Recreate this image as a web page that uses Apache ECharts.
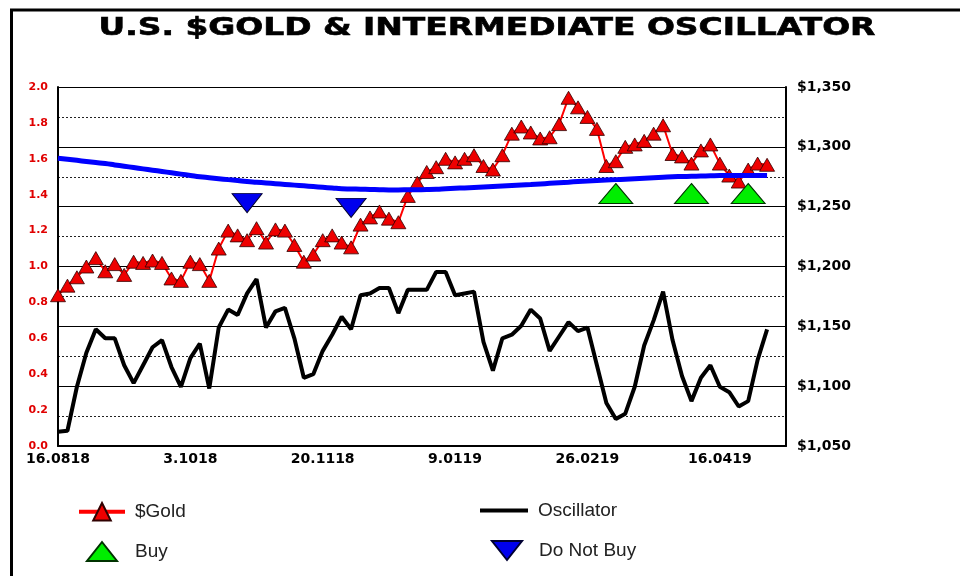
<!DOCTYPE html>
<html>
<head>
<meta charset="utf-8">
<script src="https://cdn.jsdelivr.net/npm/echarts@6/dist/echarts.min.js"></script>
<style>
  html, body { margin: 0; padding: 0; background: #fff; }
  #chart { width: 960px; height: 576px; }
</style>
</head>
<body>
<div id="chart"></div>
<script>
// one category = roughly two trading days
const tickLabels = ['16.0818', '3.1018', '20.1118', '9.0119', '26.0219', '16.0419']
const labelStep = 14
const slotCount = 78

const gold = [
  1176, 1184, 1191, 1200, 1207, 1196, 1202, 1193, 1204, 1203,
  1205, 1203, 1190, 1188, 1204, 1202, 1188, 1215, 1230, 1226,
  1222, 1232, 1220, 1231, 1230, 1218, 1204, 1210, 1222, 1226,
  1220, 1216, 1235, 1241, 1246, 1240, 1237, 1259, 1270, 1279,
  1283, 1290, 1287, 1290, 1293, 1284, 1281, 1293, 1311, 1317,
  1312, 1307, 1308, 1319, 1341, 1333, 1325, 1315, 1284, 1288,
  1300, 1302, 1305, 1311, 1318, 1294, 1292, 1286, 1297, 1302,
  1286, 1276, 1271, 1281, 1286, 1285
]
const average = [
  1290.5, 1289.6, 1288.7, 1287.8, 1286.9, 1286, 1284.9, 1283.8, 1282.7, 1281.6,
  1280.5, 1279.4, 1278.3, 1277.2, 1276.1, 1275, 1274.2, 1273.4, 1272.6, 1271.8,
  1271, 1270.4, 1269.8, 1269.2, 1268.6, 1268, 1267.4, 1266.8, 1266.2, 1265.6,
  1265, 1264.8, 1264.6, 1264.4, 1264.2, 1264, 1264, 1264.1, 1264.2, 1264.3,
  1264.5, 1264.9, 1265.3, 1265.7, 1266.1, 1266.5, 1266.9, 1267.3, 1267.7, 1268.1,
  1268.5, 1269, 1269.5, 1270, 1270.5, 1271, 1271.4, 1271.8, 1272.2, 1272.6,
  1273, 1273.4, 1273.8, 1274.2, 1274.6, 1275, 1275.2, 1275.4, 1275.6, 1275.8,
  1276, 1276, 1276, 1276, 1276, 1276
]
const oscillator = [
  0.08, 0.085, 0.33, 0.52, 0.65, 0.60, 0.60, 0.45, 0.35, 0.45,
  0.55, 0.59, 0.44, 0.33, 0.49, 0.57, 0.32, 0.66, 0.76, 0.73,
  0.85, 0.93, 0.66, 0.75, 0.77, 0.60, 0.38, 0.40, 0.53, 0.62,
  0.72, 0.65, 0.84, 0.85, 0.88, 0.88, 0.74, 0.87, 0.87, 0.87,
  0.97, 0.97, 0.84, 0.85, 0.86, 0.58, 0.42, 0.60, 0.62, 0.67,
  0.76, 0.71, 0.53, 0.61, 0.69, 0.64, 0.66, 0.45, 0.24, 0.15,
  0.18, 0.33, 0.56, 0.70, 0.86, 0.59, 0.39, 0.25, 0.38, 0.45,
  0.33, 0.30, 0.22, 0.25, 0.48, 0.65
]
const buySlots = [59, 67, 73]
const buyLevels = [1261, 1261, 1261]
const noBuySlots = [20, 31]
const noBuyLevels = [1253, 1249]

const categories = []
for (let i = 0; i < slotCount; i++) categories.push('p' + i)

const chart = echarts.init(document.getElementById('chart'))
const boldFont = '"DejaVu Sans", sans-serif'
const legendText = { fontFamily: '"Liberation Sans", Arial, sans-serif', fontSize: 19, color: '#222' }

chart.setOption({
  animation: false,
  backgroundColor: '#fff',
  grid: { left: 58, right: 174, top: 87, bottom: 130 },
  graphic: [
    {
      type: 'text',
      x: 487,
      y: 29,
      scaleX: 1.37,
      style: {
        text: 'U.S. $GOLD & INTERMEDIATE OSCILLATOR',
        font: 'bold 24px "DejaVu Sans"',
        fill: '#000',
        stroke: '#000',
        lineWidth: 0.6,
        textAlign: 'center',
        align: 'center',
        textVerticalAlign: 'middle',
        verticalAlign: 'middle',
      },
    },
    { type: 'line', shape: { x1: 10, y1: 10, x2: 960, y2: 10 }, style: { stroke: '#000', lineWidth: 3 } },
    { type: 'line', shape: { x1: 11.5, y1: 9, x2: 11.5, y2: 576 }, style: { stroke: '#000', lineWidth: 3 } },
  ],
  legend: [
    {
      data: ['$Gold'], left: 72, top: 497, itemWidth: 46, itemHeight: 22,
      lineStyle: { width: 4 },
      textStyle: Object.assign({ padding: [0, 0, 0, 5] }, legendText),
    },
    {
      data: ['Buy'], left: 81, top: 536, itemWidth: 30, itemHeight: 19,
      textStyle: Object.assign({ padding: [0, 0, 0, 13] }, legendText),
    },
    {
      data: [{ name: 'Oscillator', icon: 'rect' }], left: 475, top: 496, itemWidth: 48, itemHeight: 4,
      textStyle: Object.assign({ padding: [0, 0, 0, 5] }, legendText),
    },
    {
      data: ['Do Not Buy'], left: 486, top: 535, itemWidth: 30, itemHeight: 19,
      textStyle: Object.assign({ padding: [0, 0, 0, 12] }, legendText),
    },
  ],
  xAxis: {
    type: 'category',
    data: categories,
    boundaryGap: false,
    axisLine: { lineStyle: { color: '#000', width: 2 } },
    axisTick: { show: false },
    axisLabel: {
      interval: labelStep - 1,
      margin: 6,
      color: '#000',
      fontFamily: boldFont,
      fontWeight: 'bold',
      fontSize: 14,
      formatter: (v, i) => tickLabels[i / labelStep] || '',
    },
    splitLine: { show: false },
  },
  yAxis: [
    {
      type: 'value',
      min: 0,
      max: 2,
      interval: 0.2,
      position: 'left',
      axisLine: { show: true, lineStyle: { color: '#000', width: 2 } },
      axisTick: { show: false },
      splitLine: { show: false },
      axisLabel: {
        margin: 10,
        color: '#e00000',
        fontFamily: boldFont,
        fontWeight: 'bold',
        fontSize: 11,
        formatter: (v) => v.toFixed(1),
      },
    },
    {
      type: 'value',
      min: 1050,
      max: 1350,
      interval: 50,
      position: 'right',
      axisLine: { show: true, lineStyle: { color: '#000', width: 2 } },
      axisTick: { show: false },
      splitLine: { show: true, lineStyle: { color: '#000', width: 1 } },
      minorTick: { show: false, splitNumber: 2 },
      minorSplitLine: { show: true, lineStyle: { color: '#222', width: 1, type: [2, 2] } },
      axisLabel: {
        margin: 11,
        color: '#000',
        fontFamily: boldFont,
        fontWeight: 'bold',
        fontSize: 14,
        formatter: (v) => '$' + v.toLocaleString('en-US'),
      },
    },
  ],
  series: [
    {
      name: '$Gold',
      type: 'line',
      yAxisIndex: 1,
      data: gold,
      symbol: 'triangle',
      symbolSize: [15, 13],
      showAllSymbol: true,
      lineStyle: { color: '#ff0000', width: 2 },
      itemStyle: { color: '#ee0000', borderColor: '#300000', borderWidth: 0.8 },
      z: 2,
    },
    {
      name: 'Average',
      type: 'line',
      yAxisIndex: 1,
      data: average,
      symbol: 'none',
      smooth: true,
      lineStyle: { color: '#0000ff', width: 5 },
      z: 3,
    },
    {
      name: 'Oscillator',
      type: 'line',
      yAxisIndex: 0,
      data: oscillator,
      symbol: 'none',
      lineStyle: { color: '#000', width: 4 },
      itemStyle: { color: '#000' },
      z: 3,
    },
    {
      name: 'Buy',
      type: 'scatter',
      yAxisIndex: 1,
      data: buySlots.map((s, i) => [s, buyLevels[i]]),
      symbol: 'path://M15,0 L30,19 L0,19 Z',
      symbolSize: [34, 20],
      itemStyle: { color: '#00ee00', borderColor: '#003300', borderWidth: 1, opacity: 1 },
      z: 4,
    },
    {
      name: 'Do Not Buy',
      type: 'scatter',
      yAxisIndex: 1,
      data: noBuySlots.map((s, i) => [s, noBuyLevels[i]]),
      symbol: 'path://M0,0 L30,0 L15,19 Z',
      symbolSize: [30, 19],
      itemStyle: { color: '#0000ee', borderColor: '#000033', borderWidth: 1, opacity: 1 },
      z: 4,
    },
  ],
})
</script>
</body>
</html>
